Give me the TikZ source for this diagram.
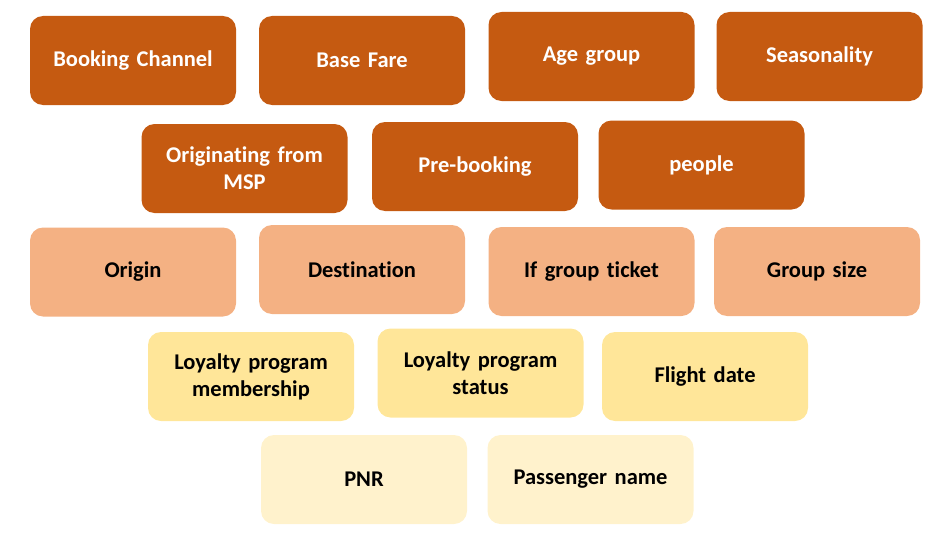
\documentclass[tikz,border=0pt]{standalone}
\usepackage{fontspec}
\setmainfont{Carlito}[Ligatures={NoCommon}]
\usepackage{tikz}

\definecolor{darkfeat}{HTML}{C55A11}
\definecolor{midfeat}{HTML}{F4B183}
\definecolor{softfeat}{HTML}{FFE699}
\definecolor{palefeat}{HTML}{FFF2CC}

\begin{document}
\begin{tikzpicture}[
    featbox/.style={rectangle, rounded corners=0.26cm, minimum width=4.12cm, minimum height=1.78cm,
        inner sep=2pt, align=center, text width=3.9cm,
        font=\fontsize{12.8}{15.4}\selectfont\bfseries},
    tierone/.style={featbox, fill=darkfeat, text=white},
    tiertwo/.style={featbox, fill=midfeat, text=black},
    tierthree/.style={featbox, fill=softfeat, text=black},
    tierfour/.style={featbox, fill=palefeat, text=black}
]
\useasboundingbox (0,0) rectangle (19,-10.74);

% Strongest features
\node[tierone] (channel) at (2.66,-1.21) {Booking Channel};
\node[tierone] (fare) at (7.24,-1.21) {Base Fare};
\node[tierone] (age) at (11.83,-1.13) {Age group};
\node[tierone] (season) at (16.39,-1.13) {Seasonality};
\node[tierone] (msp) at (4.89,-3.37) {Originating from\\MSP};
\node[tierone] (prebook) at (9.50,-3.33) {Pre-booking};
\node[tierone] (people) at (14.03,-3.30) {people};

% Medium features
\node[tiertwo] (origin) at (2.66,-5.44) {Origin};
\node[tiertwo] (dest) at (7.24,-5.39) {Destination};
\node[tiertwo] (groupticket) at (11.83,-5.43) {If group ticket};
\node[tiertwo] (groupsize) at (16.34,-5.43) {Group size};

% Weaker features
\node[tierthree] (loymember) at (5.02,-7.53) {Loyalty program\\membership};
\node[tierthree] (loystatus) at (9.61,-7.46) {Loyalty program\\status};
\node[tierthree] (flightdate) at (14.10,-7.53) {Flight date};

% Weakest features
\node[tierfour] (pnr) at (7.28,-9.59) {PNR};
\node[tierfour] (passname) at (11.81,-9.59) {Passenger name};
\end{tikzpicture}
\end{document}
